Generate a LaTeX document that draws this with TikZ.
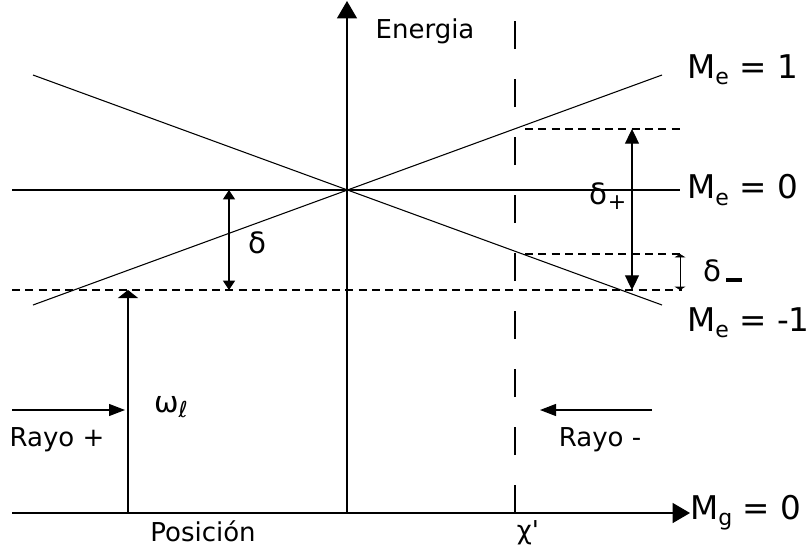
\documentclass[tikz,border=0pt]{standalone}
\usepackage{fontspec}
\setmainfont{DejaVu Sans}
\usetikzlibrary{arrows.meta}
\newcommand{\lsub}[1]{\raisebox{-0.35ex}{\fontsize{16.5}{16.5}\selectfont #1}}
\tikzset{
  ln/.style={line width=0.8pt},
  ax/.style={ln,-{Triangle[length=13pt,width=15pt]}},
  dar/.style={ln,{Triangle[length=11pt,width=10.5pt]}-{Triangle[length=11pt,width=10.5pt]}},
  dsm/.style={ln,{Triangle[length=7pt,width=9pt]}-{Triangle[length=7pt,width=9pt]}},
  sar/.style={line width=0.5pt,{Triangle[length=2.5pt,width=8pt]}-{Triangle[length=2.5pt,width=8pt]}},
  ray/.style={ln,-{Triangle[length=12pt,width=9pt]}},
  wray/.style={ln,-{Triangle[length=6pt,width=15pt]}},
  lvl/.style={ln,dash pattern=on 6pt off 4pt},
  lbl/.style={font=\fontsize{19.5}{21}\selectfont,inner sep=0pt},
  glbl/.style={font=\fontsize{22}{24}\selectfont,inner sep=0pt},
  mlbl/.style={font=\fontsize{24.5}{26}\selectfont,inner sep=0pt,anchor=west},
}
\begin{document}
\begin{tikzpicture}[x=0.75pt,y=-0.75pt]
\useasboundingbox (0,0) rectangle (811,554);
% axes
\coordinate (o) at (347,190);
\coordinate (xa) at (347,513);
\coordinate (ytop) at (347,1);
\coordinate (xl) at (12,513);
\node[mlbl] (mg) at (690,513) {M\lsub{g} = 0};
\draw[ax] (xa) -- (ytop);
\draw[ax] (xl) -- (mg.west);
% levels
\coordinate (ul) at (33,75);
\coordinate (lr) at (662,305);
\coordinate (ll) at (33,305);
\coordinate (ur) at (662,75);
\coordinate (zl) at (12,190);
\node[mlbl] (me1) at (687,70) {M\lsub{e} = 1};
\node[mlbl] (me0) at (687,190) {M\lsub{e} = 0};
\node[mlbl] (mem) at (687,323) {M\lsub{e} = -1};
\draw[ln] (ul) -- (lr);
\draw[ln] (ll) -- (ur);
\draw[ln] (zl) -- (680,190);
% dashed guides
\coordinate (dl) at (12,290);
\coordinate (dr) at (682,290);
\draw[lvl] (dl) -- (dr);
\draw[lvl] (525,129) -- (682,129);
\draw[lvl] (525,254) -- (682,254);
\coordinate (xp) at (515,513);
\coordinate (xpt) at (515,20);
\draw[ln,dash pattern=on 21pt off 22.5pt] (xp) -- (xpt);
% detunings
\draw[dsm] (229,190) -- (229,290);
\node[glbl] (d) at (257,243) {δ};
\draw[dar] (632,129) -- (632,290);
\node[glbl] (dp) at (608,196) {δ\lsub{+}};
\draw[sar] (680,254) -- (680,290);
\node[glbl,anchor=west] (dm) at (703,271) {δ\,\rule{12pt}{2.8pt}};
% laser
\coordinate (wb) at (128,513);
\coordinate (wt) at (128,290);
\draw[wray] (wb) -- (wt);
\node[glbl] (w) at (171,407) {ω\lsub{ℓ}};
\draw[ray] (12,410) -- (125,410);
\node[lbl] (rp) at (57,440) {Rayo +};
\draw[ray] (652,410) -- (540,410);
\node[lbl] (rm) at (600,440) {Rayo -};
% texts
\node[lbl] (en) at (425,31) {Energia};
\node[lbl] (pos) at (203,531) {Posición};
\node[lbl] (chi) at (528,533) {χ\textquotesingle};
\end{tikzpicture}
\end{document}
